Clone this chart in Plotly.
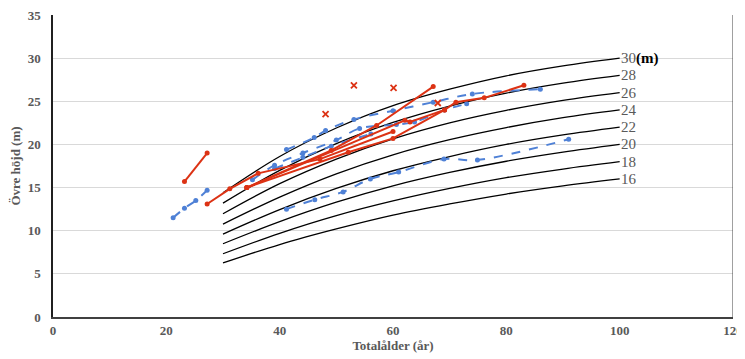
import plotly.graph_objects as go

# Site-index curves (H at total age), labelled by H100
curve_ages = [30, 40, 50, 60, 70, 80, 90, 100]
si_labels = ["16", "18", "20", "22", "24", "26", "28", "30"]
si16 = [6.26, 8.40, 10.20, 11.80, 13.10, 14.25, 15.20, 16.0]
si18 = [7.33, 9.70, 11.75, 13.45, 14.90, 16.15, 17.15, 18.0]
si20 = [8.49, 11.05, 13.30, 15.20, 16.75, 18.05, 19.10, 20.0]
si22 = [9.61, 12.45, 14.90, 16.95, 18.60, 20.00, 21.10, 22.0]
si24 = [10.77, 13.90, 16.60, 18.80, 20.55, 21.95, 23.10, 24.0]
si26 = [11.96, 15.45, 18.30, 20.65, 22.50, 23.95, 25.10, 26.0]
si28 = [13.20, 17.00, 20.10, 22.55, 24.45, 25.95, 27.10, 28.0]
si30 = [14.40, 18.60, 21.90, 24.50, 26.40, 27.95, 29.10, 30.0]
curves = [si16, si18, si20, si22, si24, si26, si28, si30]

# Blue (dashed) stands
b1_age = [21.2, 23.2, 25.2, 27.2]
b1_h = [11.5, 12.6, 13.5, 14.7]
b2_age = [41.2, 46.2, 51.2, 56.0, 61.0, 69.0, 74.9, 91.0]
b2_h = [12.5, 13.6, 14.5, 16.0, 16.8, 18.3, 18.2, 20.6]
b3_age = [41.2, 46.1, 48.1, 53.1, 60.0, 67.1, 74.0, 86.0]
b3_h = [19.4, 20.8, 21.6, 22.9, 23.9, 24.9, 25.85, 26.4]
b4_age = [35.2, 39.1, 44.1, 50.0, 54.1, 60.6, 63.8, 69.1, 73.0]
b4_h = [15.9, 17.6, 19.0, 20.5, 21.85, 22.3, 22.6, 24.0, 24.7]
b5_age = [39.1, 44.1, 49.1, 56.1]
b5_h = [17.2, 18.5, 19.8, 21.2]

# Red (solid) stands
r1_age = [23.2, 27.2]
r1_h = [15.7, 19.0]
r2_age = [27.2, 31.2, 36.2, 47.1, 60.0]
r2_h = [13.1, 14.85, 16.65, 18.3, 21.5]
r3_age = [34.2, 49.1, 57.1, 67.1]
r3_h = [15.0, 19.3, 22.2, 26.7]
r4_age = [34.2, 52.1, 60.0, 69.1, 71.1, 76.1, 83.1]
r4_h = [15.0, 19.1, 20.7, 24.0, 24.9, 25.4, 26.85]
r5_age = [34.2, 62.1, 63.0, 69.1]
r5_h = [15.0, 22.8, 22.6, 24.0]

# Red single observations (x)
x_age = [48.1, 53.1, 60.1, 67.9]
x_h = [23.5, 26.85, 26.55, 24.8]

BLUE = "#4F81D6"
RED = "#DC3214"
GRAY = "#595959"
FONT = "Liberation Serif"

fig = go.Figure()

for c in curves:
    fig.add_trace(go.Scatter(x=curve_ages, y=c, mode="lines",
                             line=dict(color="black", width=1.3, shape="spline"),
                             hoverinfo="skip", showlegend=False))

for a, h in [(b1_age, b1_h), (b2_age, b2_h), (b3_age, b3_h), (b4_age, b4_h), (b5_age, b5_h)]:
    fig.add_trace(go.Scatter(x=a, y=h, mode="lines+markers",
                             line=dict(color=BLUE, width=2, dash="dash", shape="spline"),
                             marker=dict(color=BLUE, size=5),
                             showlegend=False))

for a, h in [(r1_age, r1_h), (r2_age, r2_h), (r3_age, r3_h), (r4_age, r4_h), (r5_age, r5_h)]:
    fig.add_trace(go.Scatter(x=a, y=h, mode="lines+markers",
                             line=dict(color=RED, width=2),
                             marker=dict(color=RED, size=5),
                             showlegend=False))

fig.add_trace(go.Scatter(x=x_age, y=x_h, mode="markers",
                         marker=dict(symbol="x-thin", size=6,
                                     line=dict(color=RED, width=1.8)),
                         showlegend=False))

for lab, c in zip(si_labels, curves):
    txt = lab if lab != "30" else "30<span style='color:black'><b>(m)</b></span>"
    fig.add_annotation(x=curve_ages[-1], y=c[-1], text=txt, showarrow=False,
                       xanchor="left", yanchor="middle", xshift=-1,
                       font=dict(family=FONT, size=15, color=GRAY))

fig.update_layout(
    width=745, height=351,
    margin=dict(l=45, r=20, t=7, b=42),
    paper_bgcolor="white", plot_bgcolor="white",
    font=dict(family=FONT, color=GRAY),
    showlegend=False,
)
fig.update_xaxes(range=[0, 120], dtick=20, showgrid=False, zeroline=False,
                 showline=True, linecolor="#404040", linewidth=2,
                 mirror=False, ticks="", automargin=False,
                 ticklabeloverflow="allow",
                 tickfont=dict(family=FONT, size=13, color=GRAY, weight="bold"),
                 title=dict(text="Totalålder (år)", standoff=3,
                            font=dict(family=FONT, size=13, color=GRAY, weight="bold")))
fig.update_yaxes(range=[0, 35], dtick=5, showgrid=True, gridcolor="#D9D9D9",
                 gridwidth=1, zeroline=False, automargin=False,
                 showline=True, linecolor="#202020", linewidth=1.5,
                 ticks="", ticklabelstandoff=8, ticklabeloverflow="allow",
                 tickfont=dict(family=FONT, size=13, color=GRAY, weight="bold"),
                 title=dict(text="Övre höjd (m)", standoff=6,
                            font=dict(family=FONT, size=13, color=GRAY, weight="bold")))
fig.add_shape(type="line", xref="x", yref="paper", x0=120, x1=120, y0=0, y1=1,
              line=dict(color="#404040", width=1))

fig.write_html("out.html")
